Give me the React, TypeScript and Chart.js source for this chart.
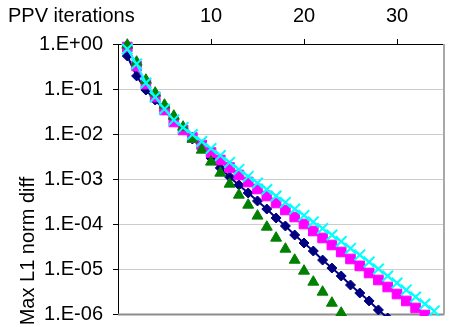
import React, { useEffect, useRef } from 'react';
import { Chart, registerables } from 'chart.js';

Chart.register(...registerables);

const FONT = "'Liberation Sans', Arial, Helvetica, sans-serif";

const iterations = [1, 2, 3, 4, 5, 6, 7, 8, 9, 10, 11, 12, 13, 14, 15, 16, 17, 18, 19, 20, 21, 22, 23, 24, 25, 26, 27, 28, 29, 30, 31, 32, 33, 34];

const navySeries = [0.541, 0.195, 0.095, 0.057, 0.0341, 0.0215, 0.0129, 0.00774, 0.00489, 0.00293, 0.00176, 0.00111, 0.000736, 0.000489, 0.000325, 0.000215, 0.000136, 9.03e-5, 5.7e-5, 3.78e-5, 2.51e-5, 1.58e-5, 1.05e-5, 6.99e-6, 4.41e-6, 2.93e-6, 1.95e-6, 1.23e-6, 8.15e-7];

const magentaSeries = [0.858, 0.325, 0.129, 0.0664, 0.0341, 0.0185, 0.0123, 0.00836, 0.0057, 0.00388, 0.00264, 0.0018, 0.00123, 0.000858, 0.0006, 0.000419, 0.000293, 0.000205, 0.000143, 1.0e-4, 6.99e-5, 4.89e-5, 3.42e-5, 2.39e-5, 1.67e-5, 1.17e-5, 8.15e-6, 5.7e-6, 3.98e-6, 2.78e-6, 1.95e-6, 1.36e-6, 9.5e-7];

const greenSeries = [0.95, 0.398, 0.158, 0.0815, 0.0441, 0.0251, 0.0143, 0.00774, 0.00441, 0.00239, 0.00136, 0.000774, 0.000441, 0.000264, 0.000151, 8.58e-5, 4.89e-5, 2.78e-5, 1.58e-5, 9.03e-6, 5.14e-6, 3.08e-6, 1.75e-6, 1.05e-6];

const cyanSeries = [0.774, 0.359, 0.136, 0.0664, 0.0359, 0.0205, 0.0139, 0.00975, 0.00681, 0.00476, 0.00333, 0.00233, 0.00163, 0.00114, 0.000815, 0.000585, 0.000419, 0.000301, 0.000215, 0.000155, 0.000111, 7.94e-5, 5.7e-5, 4.08e-5, 2.86e-5, 2.05e-5, 1.43e-5, 1.0e-5, 6.99e-6, 4.89e-6, 3.42e-6, 2.39e-6, 1.67e-6, 1.17e-6];

const xTickValues = [10, 20, 30];
const yTickValues = [1, 0.1, 0.01, 0.001, 0.0001, 0.00001, 0.000001];
const yTickLabels = ['1.E+00', '1.E-01', '1.E-02', '1.E-03', '1.E-04', '1.E-05', '1.E-06'];

const xTitle = 'PPV iterations';
const yTitle = 'Max L1 norm diff';

function toPoints(vals: number[]) {
  return vals.map((v, i) => ({ x: iterations[i], y: v }));
}

export default function App() {
  const ref = useRef<HTMLCanvasElement>(null);

  useEffect(() => {
    if (!ref.current) return;

    const titlesPlugin = {
      id: 'titles',
      afterDraw(chart: any) {
        const ctx = chart.ctx;
        const area = chart.chartArea;
        ctx.save();
        ctx.fillStyle = '#000';
        ctx.font = `20px ${FONT}`;
        ctx.textBaseline = 'middle';
        ctx.textAlign = 'left';
        ctx.fillText(xTitle, 8, 16);
        ctx.translate(28, (area.top + area.bottom) / 2 + 72);
        ctx.rotate(-Math.PI / 2);
        ctx.textAlign = 'center';
        ctx.fillText(yTitle, 0, 0);
        ctx.restore();
      },
    };

    const framePlugin = {
      id: 'frame',
      beforeDatasetsDraw(chart: any) {
        const ctx = chart.ctx;
        const a = chart.chartArea;
        ctx.save();
        ctx.strokeStyle = '#8c8c8c';
        ctx.lineWidth = 2;
        ctx.beginPath();
        ctx.moveTo(a.left, a.bottom + 0.5);
        ctx.lineTo(a.right + 1, a.bottom + 0.5);
        ctx.stroke();
        ctx.strokeStyle = '#a8a8a8';
        ctx.beginPath();
        ctx.moveTo(a.right + 0.5, a.top);
        ctx.lineTo(a.right + 0.5, a.bottom);
        ctx.stroke();
        ctx.restore();
      },
    };

    const clip = { left: 12, top: 8, right: 4, bottom: 2 };

    const chart = new Chart(ref.current, {
      type: 'line',
      data: {
        datasets: [
          {
            label: 'navy',
            data: toPoints(navySeries),
            borderColor: '#000080',
            backgroundColor: '#000080',
            borderWidth: 2,
            pointStyle: 'rectRot',
            pointRadius: 5,
            pointBorderWidth: 1,
            showLine: true,
            order: 3,
            clip,
          },
          {
            label: 'magenta',
            data: toPoints(magentaSeries),
            borderColor: '#ff00ff',
            backgroundColor: '#ff00ff',
            borderWidth: 2,
            pointStyle: 'rect',
            pointRadius: 6.8,
            pointBorderWidth: 1,
            showLine: true,
            order: 2,
            clip,
          },
          {
            label: 'green',
            data: toPoints(greenSeries),
            borderColor: '#008000',
            backgroundColor: '#008000',
            borderWidth: 0,
            pointStyle: 'triangle',
            pointRadius: 6.3,
            pointBorderWidth: 1,
            showLine: false,
            order: 1,
            clip,
          },
          {
            label: 'cyan',
            data: toPoints(cyanSeries),
            borderColor: '#00ffff',
            backgroundColor: '#00ffff',
            borderWidth: 2,
            pointStyle: 'crossRot',
            pointRadius: 7.5,
            pointBorderWidth: 2,
            showLine: true,
            order: 0,
            clip,
          },
        ],
      },
      options: {
        responsive: false,
        animation: false,
        layout: { padding: { left: 0, top: 0, right: 2, bottom: 13 } },
        plugins: {
          legend: { display: false },
          tooltip: { enabled: false },
          title: { display: false },
        },
        elements: { line: { tension: 0 } },
        scales: {
          x: {
            type: 'linear',
            position: 'top',
            min: 0,
            max: 35,
            afterBuildTicks: (scale: any) => {
              scale.ticks = xTickValues.map((v) => ({ value: v }));
            },
            afterFit: (scale: any) => {
              scale.height = 44;
              scale.paddingLeft = 0;
              scale.paddingRight = 0;
              scale.paddingTop = 0;
              scale.paddingBottom = 0;
            },
            ticks: {
              color: '#000',
              font: { family: FONT, size: 20 },
              padding: 11,
              maxRotation: 0,
              callback: (value: any) => String(value),
            },
            grid: {
              drawOnChartArea: false,
              drawTicks: true,
              tickLength: 5,
              tickColor: '#000',
              color: '#000',
            },
            border: { display: true, color: '#000', width: 1 },
          },
          y: {
            type: 'logarithmic',
            position: 'left',
            min: 0.000001,
            max: 1,
            afterBuildTicks: (scale: any) => {
              scale.ticks = yTickValues.map((v) => ({ value: v }));
            },
            afterFit: (scale: any) => {
              scale.width = 118;
              scale.paddingLeft = 0;
              scale.paddingRight = 0;
              scale.paddingTop = 0;
              scale.paddingBottom = 0;
            },
            ticks: {
              color: '#000',
              font: { family: FONT, size: 20 },
              padding: 10,
              callback: (value: any) => {
                const idx = yTickValues.indexOf(value);
                return idx >= 0 ? yTickLabels[idx] : '';
              },
            },
            grid: {
              tickLength: 5,
              tickColor: '#000',
              color: (ctx: any) => {
                const v = ctx.tick && ctx.tick.value;
                if (v === 1 || v === 0.000001) return 'rgba(0,0,0,0)';
                return '#cccccc';
              },
              lineWidth: 1,
            },
            border: { display: true, color: '#000', width: 1 },
          },
        },
      },
      plugins: [framePlugin, titlesPlugin],
    } as any);

    return () => {
      chart.destroy();
    };
  }, []);

  return (
    <div style={{ position: 'fixed', left: 0, top: 0, width: 453, height: 327, background: '#fff' }}>
      <canvas ref={ref} width={453} height={327} style={{ display: 'block' }} />
    </div>
  );
}
